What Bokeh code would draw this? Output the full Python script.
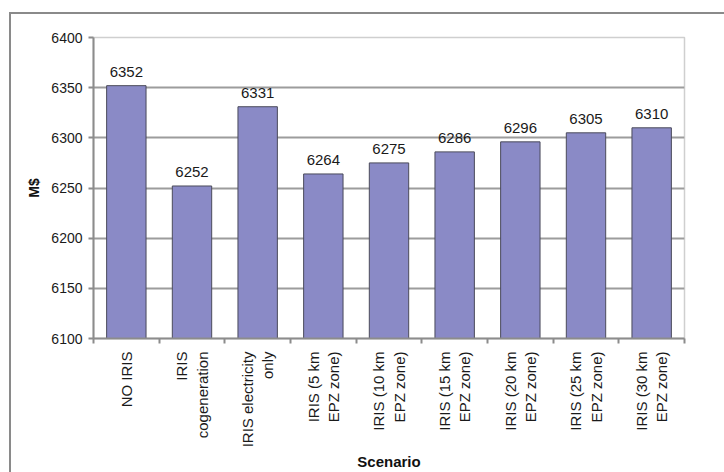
import math
from bokeh.plotting import figure
from bokeh.models import ColumnDataSource, LabelSet, FixedTicker, Range1d
from bokeh.core.properties import value
from bokeh.embed import file_html
from bokeh.resources import INLINE

scenarios = [
    "NO IRIS",
    "IRIS\ncogeneration",
    "IRIS electricity\nonly",
    "IRIS (5 km\nEPZ zone)",
    "IRIS (10 km\nEPZ zone)",
    "IRIS (15 km\nEPZ zone)",
    "IRIS (20 km\nEPZ zone)",
    "IRIS (25 km\nEPZ zone)",
    "IRIS (30 km\nEPZ zone)",
]
costs = [6352, 6252, 6331, 6264, 6275, 6286, 6296, 6305, 6310]
y_ticks = [6100, 6150, 6200, 6250, 6300, 6350, 6400]

FONT = "Liberation Sans"
BAR = "#8a8ac6"
AXIS = "#8c8c8c"

xs = [i + 0.5 for i in range(len(scenarios))]
src = ColumnDataSource(dict(x=xs, top=costs, lab=[str(v) for v in costs]))

p = figure(frame_width=591, frame_height=301, output_backend="svg", toolbar_location=None,
           x_range=Range1d(0, len(scenarios)), y_range=Range1d(y_ticks[0], y_ticks[-1]),
           min_border_left=82, min_border_top=23, min_border_right=40, min_border_bottom=134)
p.styles = {"border-top": "2px solid #8a8a8a", "border-left": "2px solid #8a8a8a",
            "margin-top": "12px", "margin-left": "9px"}

p.vbar(x="x", top="top", bottom=y_ticks[0], width=0.6, source=src,
       fill_color=BAR, line_color="#4a4a5a", line_width=1)

labels = LabelSet(x="x", y="top", text="lab", source=src, text_align="center",
                  text_baseline="alphabetic", y_offset=9, text_font=value(FONT),
                  text_font_size="15px", text_color="#1a1a1a")
p.add_layout(labels)

p.outline_line_color = "#cfcfcf"
p.outline_line_width = 1.5
p.background_fill_color = "white"
p.border_fill_color = "white"

p.xgrid.grid_line_color = None
p.ygrid.grid_line_color = "#9c9c9c"
p.ygrid.grid_line_width = 2
p.ygrid.ticker = FixedTicker(ticks=y_ticks)

p.yaxis.ticker = FixedTicker(ticks=y_ticks)
p.yaxis.axis_line_color = AXIS
p.yaxis.axis_line_width = 2
p.yaxis.major_tick_line_color = AXIS
p.yaxis.major_tick_line_width = 2
p.yaxis.major_tick_out = 5
p.yaxis.major_tick_in = 0
p.yaxis.minor_tick_line_color = None
p.yaxis.major_label_text_font = FONT
p.yaxis.major_label_text_font_size = "14px"
p.yaxis.major_label_text_color = "#1a1a1a"
p.yaxis.major_label_standoff = 6
p.yaxis.axis_label = "M$"
p.yaxis.axis_label_text_font = FONT
p.yaxis.axis_label_text_font_style = "bold"
p.yaxis.axis_label_text_font_size = "14px"
p.yaxis.axis_label_text_color = "#111111"
p.yaxis.axis_label_standoff = 6

p.xaxis.ticker = FixedTicker(ticks=xs, minor_ticks=list(range(len(scenarios) + 1)))
p.xaxis.major_label_overrides = {x: s for x, s in zip(xs, scenarios)}
p.xaxis.major_label_orientation = math.pi / 2
p.xaxis.axis_line_color = AXIS
p.xaxis.axis_line_width = 2
p.xaxis.major_tick_line_color = None
p.xaxis.major_tick_out = 0
p.xaxis.major_tick_in = 0
p.xaxis.minor_tick_line_color = AXIS
p.xaxis.minor_tick_line_width = 2
p.xaxis.minor_tick_out = 5
p.xaxis.minor_tick_in = 0
p.xaxis.major_label_text_font = FONT
p.xaxis.major_label_text_font_size = "15px"
p.xaxis.major_label_text_color = "#1a1a1a"
p.xaxis.major_label_standoff = 8
p.xaxis.axis_label = "Scenario"
p.xaxis.axis_label_text_font = FONT
p.xaxis.axis_label_text_font_style = "bold"
p.xaxis.axis_label_text_font_size = "15px"
p.xaxis.axis_label_text_color = "#111111"
p.xaxis.axis_label_standoff = 3

open("out.html", "w").write(file_html(p, INLINE))
